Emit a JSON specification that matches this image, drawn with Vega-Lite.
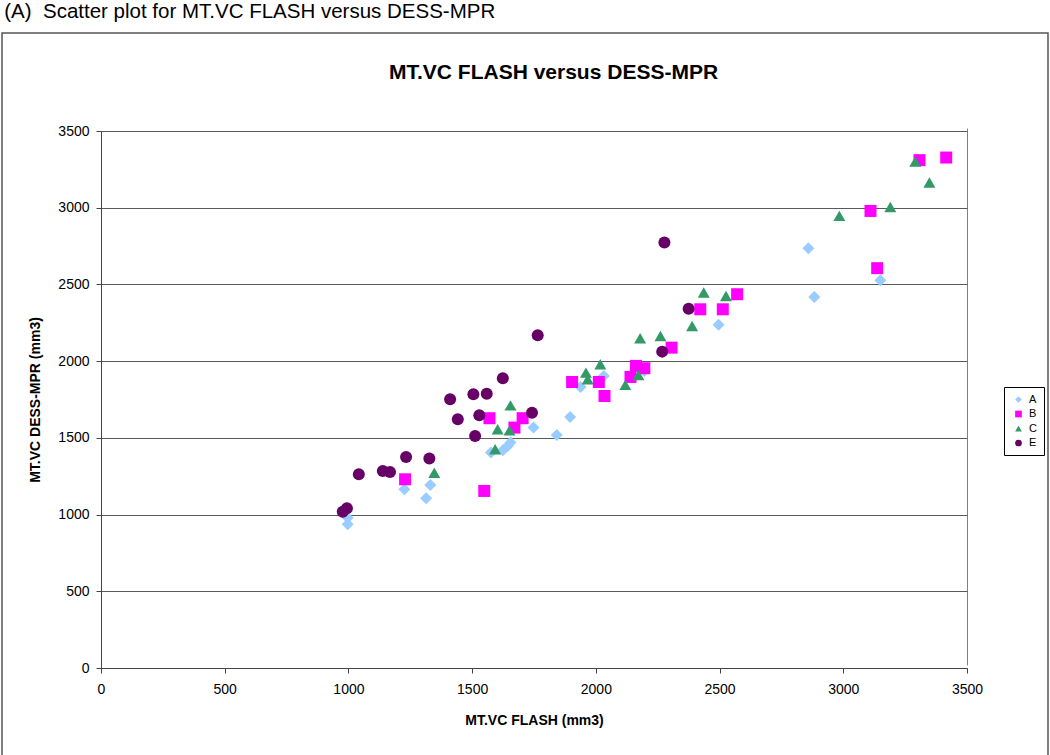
{
  "$schema": "https://vega.github.io/schema/vega-lite/v6.json",
  "autosize": {"type": "pad"},
  "padding": {"left": 1, "top": 2, "right": 0, "bottom": 0},
  "background": "white",
  "title": {"text": "(A)\u00a0 Scatter plot for MT.VC FLASH versus DESS-MPR", "anchor": "start", "frame": "bounds", "font": "Liberation Sans", "fontSize": 20.5, "fontWeight": "normal", "color": "#000", "offset": 9.5, "dx": 3},
  "config": {
    "font": "Liberation Sans",
    "view": {"stroke": "#555", "strokeWidth": 1.5},
    "concat": {"spacing": 0}
  },
  "vconcat": [
    {
      "width": 1046,
      "height": 730,
      "title": {"text": "MT.VC FLASH versus DESS-MPR", "anchor": "start", "frame": "bounds", "dx": 387, "offset": -50, "fontSize": 21, "fontWeight": "bold", "font": "Liberation Sans", "color": "#000"},
      "data": {"values": [
        {"series": "A", "flash": 997, "dess": 980},
        {"series": "A", "flash": 997, "dess": 937},
        {"series": "A", "flash": 1226, "dess": 1165},
        {"series": "A", "flash": 1331, "dess": 1193},
        {"series": "A", "flash": 1314, "dess": 1106},
        {"series": "A", "flash": 1576, "dess": 1404},
        {"series": "A", "flash": 1624, "dess": 1419},
        {"series": "A", "flash": 1644, "dess": 1447},
        {"series": "A", "flash": 1655, "dess": 1469},
        {"series": "A", "flash": 1748, "dess": 1567},
        {"series": "A", "flash": 1842, "dess": 1519},
        {"series": "A", "flash": 1896, "dess": 1636},
        {"series": "A", "flash": 1938, "dess": 1832},
        {"series": "A", "flash": 2032, "dess": 1903},
        {"series": "A", "flash": 2196, "dess": 1936},
        {"series": "A", "flash": 2496, "dess": 2237},
        {"series": "A", "flash": 2859, "dess": 2736},
        {"series": "A", "flash": 2883, "dess": 2418},
        {"series": "A", "flash": 3150, "dess": 2527},
        {"series": "B", "flash": 1229, "dess": 1230},
        {"series": "B", "flash": 1549, "dess": 1154},
        {"series": "B", "flash": 1570, "dess": 1628},
        {"series": "B", "flash": 1671, "dess": 1567},
        {"series": "B", "flash": 1704, "dess": 1628},
        {"series": "B", "flash": 1904, "dess": 1864},
        {"series": "B", "flash": 2012, "dess": 1864},
        {"series": "B", "flash": 2035, "dess": 1773},
        {"series": "B", "flash": 2140, "dess": 1897},
        {"series": "B", "flash": 2162, "dess": 1969},
        {"series": "B", "flash": 2196, "dess": 1954},
        {"series": "B", "flash": 2306, "dess": 2088},
        {"series": "B", "flash": 2422, "dess": 2338},
        {"series": "B", "flash": 2513, "dess": 2338},
        {"series": "B", "flash": 2571, "dess": 2436},
        {"series": "B", "flash": 3110, "dess": 2979},
        {"series": "B", "flash": 3137, "dess": 2606},
        {"series": "B", "flash": 3308, "dess": 3310},
        {"series": "B", "flash": 3416, "dess": 3327},
        {"series": "C", "flash": 1347, "dess": 1273},
        {"series": "C", "flash": 1593, "dess": 1426},
        {"series": "C", "flash": 1603, "dess": 1556},
        {"series": "C", "flash": 1651, "dess": 1549},
        {"series": "C", "flash": 1655, "dess": 1712},
        {"series": "C", "flash": 1960, "dess": 1925},
        {"series": "C", "flash": 1967, "dess": 1882},
        {"series": "C", "flash": 2018, "dess": 1980},
        {"series": "C", "flash": 2119, "dess": 1845},
        {"series": "C", "flash": 2172, "dess": 1910},
        {"series": "C", "flash": 2179, "dess": 2149},
        {"series": "C", "flash": 2261, "dess": 2164},
        {"series": "C", "flash": 2389, "dess": 2229},
        {"series": "C", "flash": 2436, "dess": 2447},
        {"series": "C", "flash": 2526, "dess": 2425},
        {"series": "C", "flash": 2984, "dess": 2947},
        {"series": "C", "flash": 3190, "dess": 3005},
        {"series": "C", "flash": 3291, "dess": 3301},
        {"series": "C", "flash": 3348, "dess": 3164},
        {"series": "E", "flash": 977, "dess": 1019},
        {"series": "E", "flash": 994, "dess": 1041},
        {"series": "E", "flash": 1042, "dess": 1263},
        {"series": "E", "flash": 1139, "dess": 1284},
        {"series": "E", "flash": 1168, "dess": 1278},
        {"series": "E", "flash": 1233, "dess": 1375},
        {"series": "E", "flash": 1327, "dess": 1365},
        {"series": "E", "flash": 1411, "dess": 1751},
        {"series": "E", "flash": 1442, "dess": 1621},
        {"series": "E", "flash": 1505, "dess": 1784},
        {"series": "E", "flash": 1512, "dess": 1512},
        {"series": "E", "flash": 1529, "dess": 1647},
        {"series": "E", "flash": 1559, "dess": 1788},
        {"series": "E", "flash": 1624, "dess": 1889},
        {"series": "E", "flash": 1742, "dess": 1664},
        {"series": "E", "flash": 1765, "dess": 2168},
        {"series": "E", "flash": 2268, "dess": 2062},
        {"series": "E", "flash": 2277, "dess": 2773},
        {"series": "E", "flash": 2375, "dess": 2342}
      ]},
      "mark": {"type": "point", "filled": true, "opacity": 1, "size": 144},
      "encoding": {
        "x": {
          "field": "flash", "type": "quantitative",
          "scale": {"domain": [0, 3500], "range": [99, 965], "nice": false, "zero": false},
          "axis": {
            "title": "MT.VC FLASH (mm3)",
            "values": [0, 500, 1000, 1500, 2000, 2500, 3000, 3500],
            "format": "d",
            "offset": -95,
            "grid": true,
            "gridColor": {"condition": {"test": "datum.value === 3500", "value": "#808080"}, "value": "rgba(0,0,0,0)"},
            "domainColor": "#444", "tickColor": "#444", "tickSize": 5,
            "labelFontSize": 14, "labelColor": "#000", "labelPadding": 9, "labelFlush": false, "labelOverlap": false,
            "titleFontSize": 14, "titleFontWeight": "bold", "titleColor": "#000", "titleY": 56, "titleBaseline": "alphabetic"
          }
        },
        "y": {
          "field": "dess", "type": "quantitative",
          "scale": {"domain": [0, 3500], "range": [635, 98], "nice": false, "zero": false},
          "axis": {
            "title": "MT.VC DESS-MPR (mm3)",
            "values": [0, 500, 1000, 1500, 2000, 2500, 3000, 3500],
            "format": "d",
            "offset": -99,
            "grid": true, "gridColor": "#5a5a5a",
            "domainColor": "#444", "tickColor": "#444", "tickSize": 5,
            "labelFontSize": 14, "labelColor": "#000", "labelPadding": 7, "labelFlush": false, "labelOverlap": false,
            "titleFontSize": 14, "titleFontWeight": "bold", "titleColor": "#000", "titleX": -66, "titleBaseline": "middle", "titleAngle": 270
          }
        },
        "color": {
          "field": "series", "type": "nominal",
          "scale": {"domain": ["A", "B", "C", "E"], "range": ["#99CCFF", "#FF00FF", "#339966", "#660066"]},
          "legend": {"title": null, "orient": "none", "legendX": 1002, "legendY": 354, "strokeColor": "#000", "fillColor": "white", "padding": 7, "symbolSize": 45, "labelFontSize": 11, "labelFont": "Liberation Sans", "labelColor": "#000", "rowPadding": 2.5, "labelOffset": 5, "symbolOffset": 2, "encode": {"symbols": {"update": {"size": {"value": 45}}}}}
        },
        "shape": {
          "field": "series", "type": "nominal",
          "scale": {"domain": ["A", "B", "C", "E"], "range": ["diamond", "square", "triangle-up", "circle"]},
          "legend": {"title": null, "orient": "none", "legendX": 1002, "legendY": 354, "strokeColor": "#000", "fillColor": "white", "padding": 7, "symbolSize": 45, "labelFontSize": 11, "labelFont": "Liberation Sans", "labelColor": "#000", "rowPadding": 2.5, "labelOffset": 5, "symbolOffset": 2, "encode": {"symbols": {"update": {"size": {"value": 45}}}}}
        }
      }
    }
  ]
}
